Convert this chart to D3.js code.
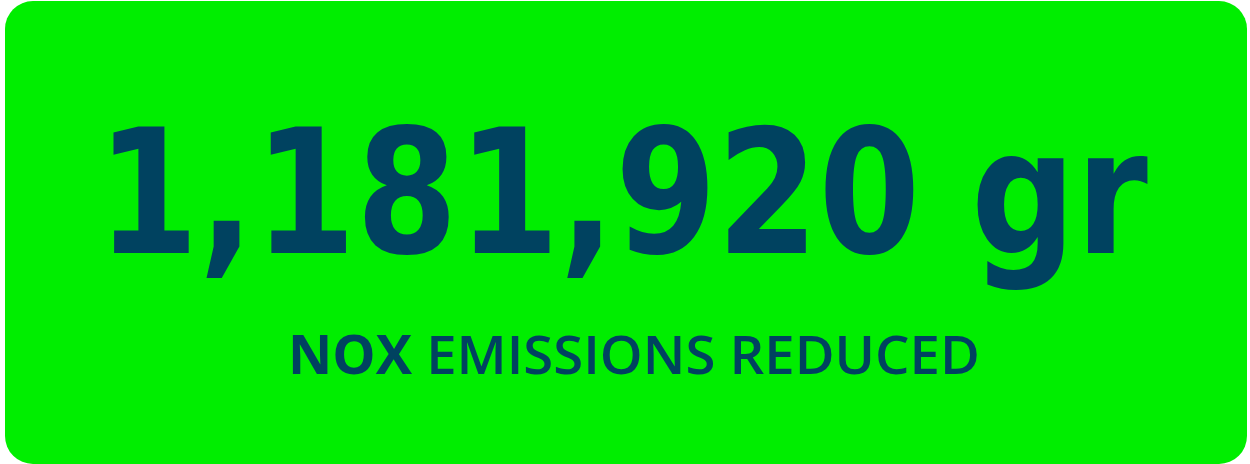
<!DOCTYPE html>
<html>
<head>
<meta charset="utf-8">
<script src="https://cdn.jsdelivr.net/npm/d3@7"></script>
<style>
  html, body { margin: 0; padding: 0; background: #ffffff; }
</style>
</head>
<body>
<div class="chart"></div>
<script>
// KPI data
const kpiValue = [1181920];
const kpiUnit = ["gr"];
const labelParts = ["NOX", "EMISSIONS REDUCED"];

const width = 1250;
const height = 464;

const svg = d3.select(".chart")
    .append("svg")
    .attr("width", width)
    .attr("height", height);

// card background
svg.append("rect")
    .attr("x", 5)
    .attr("y", 1)
    .attr("width", 1242)
    .attr("height", 463)
    .attr("rx", 28)
    .attr("fill", "#00ee00");

const fmt = d3.format(",");

// fit a text horizontally between x0 and x1 by scaling it
function fitX(sel, x0, x1, y) {
    const node = sel.node();
    const w = node.getComputedTextLength();
    const k = (x1 - x0) / w;
    sel.attr("x", 0).attr("y", 0)
        .attr("transform", `translate(${x0},${y}) scale(${k},1)`);
}

// big number
const big = svg.selectAll("text.value")
    .data(kpiValue)
    .enter()
    .append("text")
    .attr("class", "value")
    .style("font-family", "'DejaVu Sans', sans-serif")
    .style("font-weight", 700)
    .style("font-size", "173px")
    .style("fill", "#004260")
    .text((d, i) => fmt(d) + " " + kpiUnit[i]);
fitX(big, 97, 1148, 253);

// subtitle
const sub = svg.append("text")
    .style("font-family", "'Open Sans', sans-serif")
    .style("font-size", "53px")
    .style("fill", "#004260");

sub.selectAll("tspan")
    .data(labelParts)
    .enter()
    .append("tspan")
    .style("font-weight", (d, i) => i === 0 ? 700 : 600)
    .text((d, i) => i === 0 ? d + " " : d);
fitX(sub, 288, 980, 374);
</script>
</body>
</html>
